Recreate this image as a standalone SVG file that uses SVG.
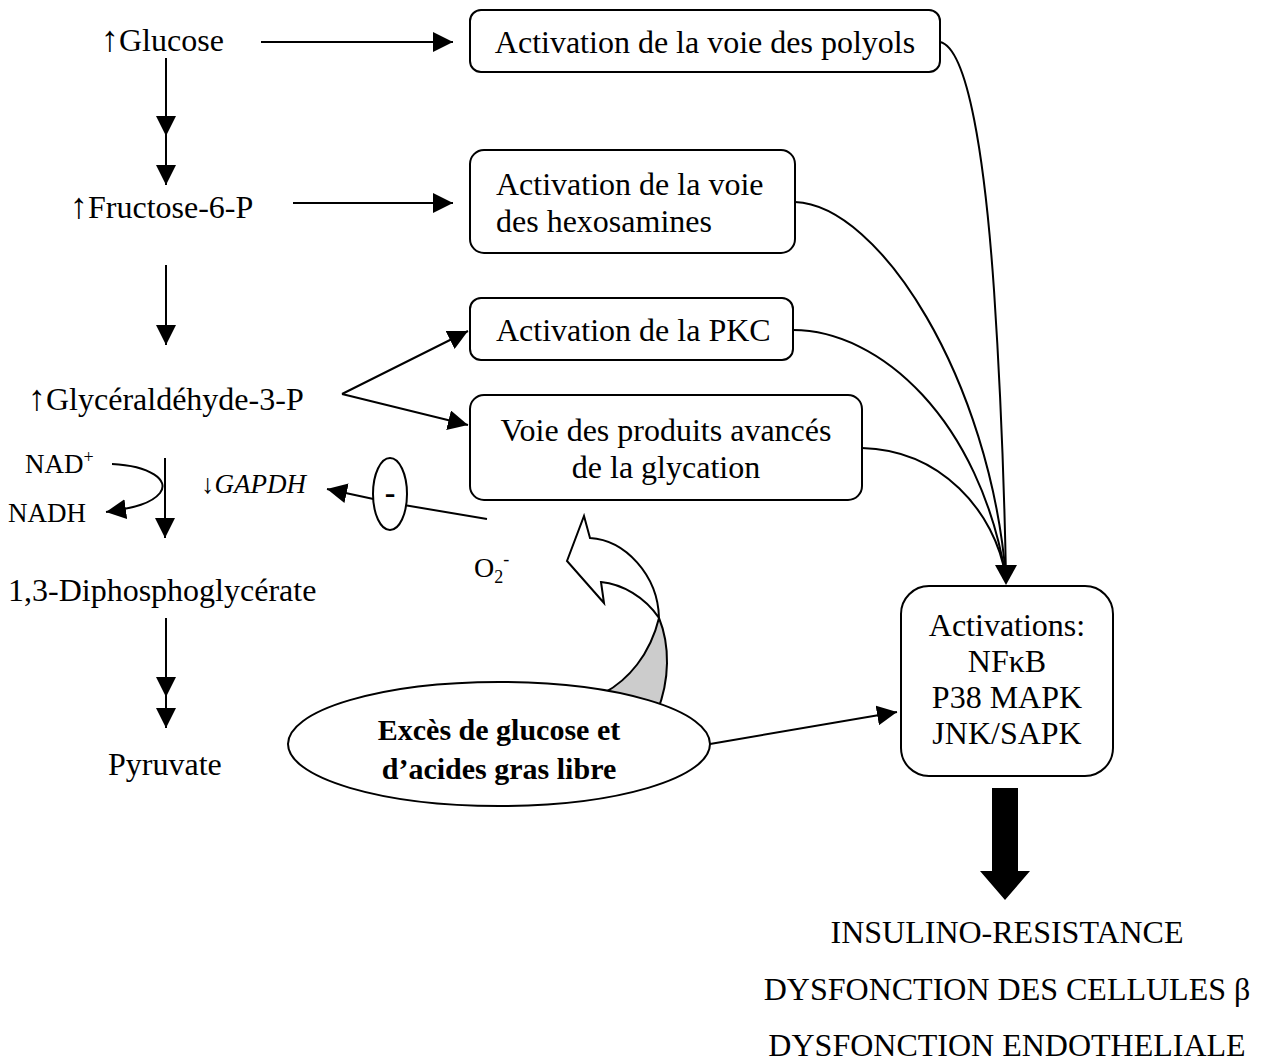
<svg xmlns="http://www.w3.org/2000/svg" width="1264" height="1062" viewBox="0 0 1264 1062">
  <style>
    text { font-family: "Liberation Serif", "Times New Roman", serif; fill: #000; }
    .t32 { font-size: 32px; }
    .t27 { font-size: 27px; }
    .arr { font-size: 36px; }
    .bold { font-weight: bold; font-size: 30px; }
    .ital { font-style: italic; font-size: 27px; }
    .mid { text-anchor: middle; }
    .box { fill: #fff; stroke: #000; stroke-width: 2; }
    .ln { fill: none; stroke: #000; stroke-width: 2; }
  </style>
  <defs>
    <marker id="ah" viewBox="0 0 20 20" refX="20" refY="10" markerWidth="20" markerHeight="20" markerUnits="userSpaceOnUse" orient="auto">
      <path d="M0,0 L20,10 L0,20 z" fill="#000"/>
    </marker>
  </defs>
  <rect width="1264" height="1062" fill="#fff"/>

  <!-- connectors -->
  <g id="connectors">
    <!-- glycolysis chain -->
    <path class="ln" d="M166,58 L166,136 L166,185" marker-mid="url(#ah)" marker-end="url(#ah)"/>
    <path class="ln" d="M166,265 L166,345" marker-end="url(#ah)"/>
    <path class="ln" d="M165,458 L165,538" marker-end="url(#ah)"/>
    <path class="ln" d="M166,618 L166,697 L166,728" marker-mid="url(#ah)" marker-end="url(#ah)"/>
    <!-- side pathways -->
    <path class="ln" d="M261,42 L453,42" marker-end="url(#ah)"/>
    <path class="ln" d="M293,203 L453,203" marker-end="url(#ah)"/>
    <path class="ln" d="M342,394 L468,331" marker-end="url(#ah)"/>
    <path class="ln" d="M342,394 L468,425" marker-end="url(#ah)"/>
    <!-- NAD+ / NADH -->
    <path class="ln" d="M112,464 C150,466 170,480 160,493 C152,503 135,508 106,512" marker-end="url(#ah)"/>
    <!-- superoxide inhibits GAPDH -->
    <path class="ln" d="M487,519 L392,503 L327,489" marker-end="url(#ah)"/>
    <!-- converging pathways -->
    <path class="ln" d="M940,42 C968,48 985,160 994,290 C1000,380 1004,470 1006,578"/>
    <path class="ln" d="M795,202 C880,205 990,380 1006,578"/>
    <path class="ln" d="M793,330 C880,330 980,420 1006,578"/>
    <path class="ln" d="M862,448 C940,450 995,510 1006,578"/>
    <polygon points="995,565 1017,565 1006,585" fill="#000"/>
    <!-- excess substrate to kinases -->
    <path class="ln" d="M710,744 L897,712" marker-end="url(#ah)"/>
    <!-- outcome arrow -->
    <polygon points="992,788 1018,788 1018,871 1030,871 1005,900 980,871 992,871" fill="#000"/>
  </g>

  <!-- curved block arrow from the excess towards superoxide -->
  <g id="ros-arrow">
    <path d="M659,618 C670,645 670,680 657,712 L600,712 L604,693 C628,680 650,655 659,618 Z" fill="#cccccc" stroke="#000" stroke-width="2" stroke-linejoin="round"/>
    <path d="M590,538 L584,516 L567,561 L604,603 L601,582 C622,584 645,597 659,618 C658,575 625,540 590,538 Z" fill="#fff" stroke="#000" stroke-width="2" stroke-linejoin="miter"/>
  </g>

  <!-- metabolites -->
  <g id="glucose"><text class="t32" x="101" y="51"><tspan class="arr">↑</tspan>Glucose</text></g>
  <g id="fructose"><text class="t32" x="70" y="218"><tspan class="arr">↑</tspan>Fructose-6-P</text></g>
  <g id="glyceraldehyde"><text class="t32" x="28" y="410"><tspan class="arr">↑</tspan>Glycéraldéhyde-3-P</text></g>
  <g id="diphosphoglycerate"><text class="t32" x="8" y="601">1,3-Diphosphoglycérate</text></g>
  <g id="pyruvate"><text class="t32" x="108" y="775">Pyruvate</text></g>
  <g id="nad"><text class="t27" x="25" y="473">NAD<tspan font-size="18" dy="-10">+</tspan></text></g>
  <g id="nadh"><text class="t27" x="8" y="522">NADH</text></g>
  <g id="gapdh"><text class="ital" x="201" y="493">↓GAPDH</text></g>
  <g id="superoxide"><text x="474" y="577" font-size="28">O<tspan font-size="18" dy="6">2</tspan><tspan font-size="18" dy="-18">-</tspan></text></g>

  <!-- inhibition sign -->
  <g id="inhibition">
    <ellipse class="box" cx="390" cy="494" rx="17" ry="36"/>
    <text class="mid" x="390" y="503" font-size="32" font-weight="bold">-</text>
  </g>

  <!-- pathway boxes -->
  <g id="polyols">
    <rect class="box" x="470" y="10" width="470" height="62" rx="11"/>
    <text class="t32 mid" x="705" y="53">Activation de la voie des polyols</text>
  </g>
  <g id="hexosamines">
    <rect class="box" x="470" y="150" width="325" height="103" rx="14"/>
    <text class="t32" x="496" y="195">Activation de la voie</text>
    <text class="t32" x="496" y="232">des hexosamines</text>
  </g>
  <g id="pkc">
    <rect class="box" x="470" y="298" width="323" height="62" rx="11"/>
    <text class="t32" x="496" y="341">Activation de la PKC</text>
  </g>
  <g id="age">
    <rect class="box" x="470" y="395" width="392" height="105" rx="14"/>
    <text class="t32 mid" x="666" y="441">Voie des produits avancés</text>
    <text class="t32 mid" x="666" y="478">de la glycation</text>
  </g>
  <g id="activations">
    <rect class="box" x="901" y="586" width="212" height="190" rx="28"/>
    <text class="t32 mid" x="1007" y="636">Activations:</text>
    <text class="t32 mid" x="1007" y="672">NFκB</text>
    <text class="t32 mid" x="1007" y="708">P38 MAPK</text>
    <text class="t32 mid" x="1007" y="744">JNK/SAPK</text>
  </g>

  <!-- excess substrate -->
  <g id="excess">
    <ellipse class="box" cx="499" cy="744" rx="211" ry="62"/>
    <text class="bold mid" x="499" y="740">Excès de glucose et</text>
    <text class="bold mid" x="499" y="779">d’acides gras libre</text>
  </g>

  <!-- consequences -->
  <g id="outcomes">
    <text class="t32 mid" x="1007" y="943">INSULINO-RESISTANCE</text>
    <text class="t32 mid" x="1007" y="1000">DYSFONCTION DES CELLULES β</text>
    <text class="t32 mid" x="1007" y="1056">DYSFONCTION ENDOTHELIALE</text>
  </g>
</svg>
